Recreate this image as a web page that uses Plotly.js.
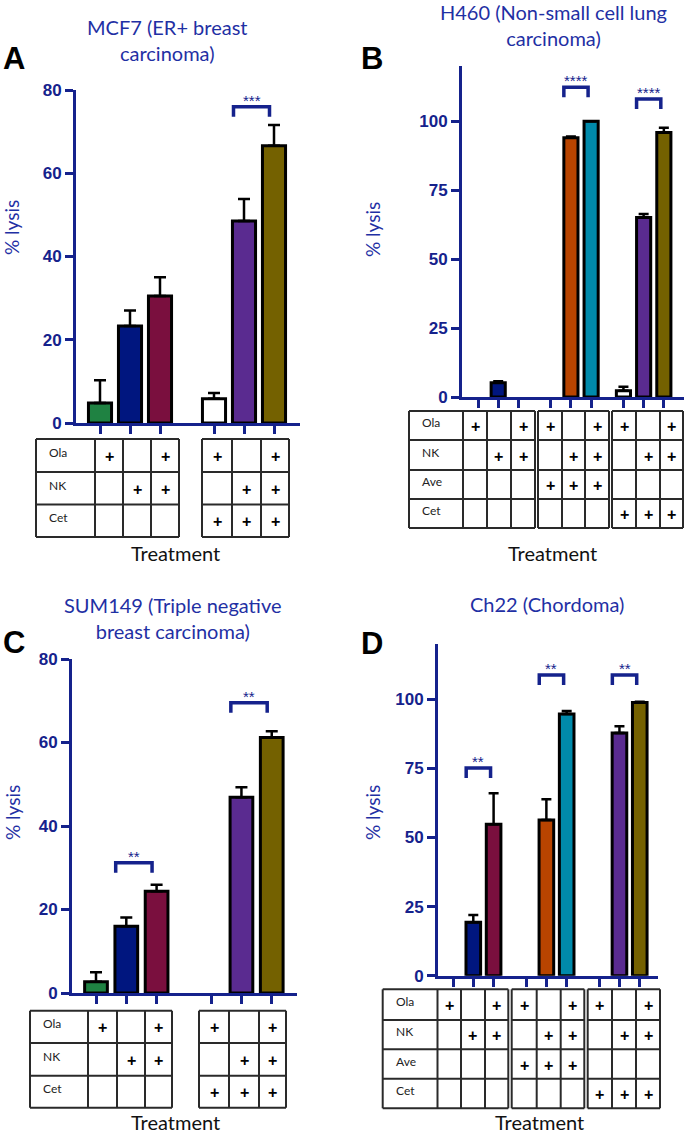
<!DOCTYPE html>
<html><head><meta charset="utf-8">
<script src="https://cdn.plot.ly/plotly-3.0.1.min.js"></script>
<style>html,body{margin:0;padding:0;background:#fff}#chart{width:685px;height:1137px}</style>
</head><body><div id="chart"></div>
<script>
// ================= DATA =================
// Panel A - MCF7
const titleA = 'MCF7 (ER+ breast<br>carcinoma)';
const rowsA = ['Ola', 'NK', 'Cet'];
const treatA = [[1,0,0],[0,1,0],[1,1,0],[1,0,1],[0,1,1],[1,1,1]];
const valuesA = [4.8, 23.3, 30.5, 5.8, 48.5, 66.6];
const errorsA = [5.5, 3.7, 4.5, 1.4, 5.3, 5.0];
const sigPairsA = [[4,5]];
const sigLevelsA = [76];
const sigLabelsA = ['***'];

// Panel B - H460
const titleB = 'H460 (Non-small cell lung<br>carcinoma)';
const rowsB = ['Ola', 'NK', 'Ave', 'Cet'];
const treatB = [[1,0,0,0],[0,1,0,0],[1,1,0,0],[1,0,1,0],[0,1,1,0],[1,1,1,0],[1,0,0,1],[0,1,0,1],[1,1,0,1]];
const valuesB = [null, 5.2, null, null, 94.0, 100.0, 2.3, 65.1, 95.9];
const errorsB = [0, 0.5, 0, 0, 0.4, 0, 1.4, 1.2, 1.7];
const sigPairsB = [[4,5],[7,8]];
const sigLevelsB = [112.3, 108];
const sigLabelsB = ['****', '****'];

// Panel C - SUM149
const titleC = 'SUM149 (Triple negative<br>breast carcinoma)';
const rowsC = ['Ola', 'NK', 'Cet'];
const treatC = [[1,0,0],[0,1,0],[1,1,0],[1,0,1],[0,1,1],[1,1,1]];
const valuesC = [2.7, 16.0, 24.4, null, 46.9, 61.2];
const errorsC = [2.3, 2.1, 1.5, 0, 2.4, 1.5];
const sigPairsC = [[1,2],[4,5]];
const sigLevelsC = [31.2, 69.5];
const sigLabelsC = ['**', '**'];

// Panel D - Ch22
const titleD = 'Ch22 (Chordoma)';
const rowsD = ['Ola', 'NK', 'Ave', 'Cet'];
const treatD = [[1,0,0,0],[0,1,0,0],[1,1,0,0],[1,0,1,0],[0,1,1,0],[1,1,1,0],[1,0,0,1],[0,1,0,1],[1,1,0,1]];
const valuesD = [null, 19.3, 54.8, null, 56.3, 94.7, null, 87.8, 98.8];
const errorsD = [0, 2.7, 11.2, 0, 7.5, 1.1, 0, 2.4, 0.3];
const sigPairsD = [[1,2],[4,5],[7,8]];
const sigLevelsD = [75.1, 108.8, 108.8];
const sigLabelsD = ['**', '**', '**'];

const yLabel = '% lysis';
const xLabel = 'Treatment';

// ================= STYLE / LAYOUT =================
const W = 685, H = 1137;
const NAVY = '#15228c', TITLEBLUE = '#1f30a4';
const C = {green:'#1f8242', navy:'#00167f', maroon:'#7a0f3e', white:'#ffffff', purple:'#5a2b90', olive:'#746100', orange:'#b84400', cyan:'#008aab'};
const colorsA = [C.green, C.navy, C.maroon, C.white, C.purple, C.olive];
const colorsB = [C.green, C.navy, C.maroon, C.orange, C.orange, C.cyan, C.white, C.purple, C.olive];

const panels = [
  {id:'', letter:'A', title:titleA, rows:rowsA, treat:treatA, vals:valuesA, errs:errorsA, colors:colorsA,
   sp:sigPairsA, sl:sigLevelsA, st:sigLabelsA,
   px:{x0:76, x1:300, yTop:90, yBot:423, first:100, unit:30}, step:3.8, yr:[0,80], dtick:20, barW:0.77, cap:6,
   titleXY:[167,40], letterXY:[14,58], ylabXY:[12,228], treatXY:[175,553],
   tRows:[439,472,504.5,537], tCols:[[36,95,123,151,179],[202,232,261,289]]},
  {id:'2', letter:'B', title:titleB, rows:rowsB, treat:treatB, vals:valuesB, errs:errorsB, colors:colorsB,
   sp:sigPairsB, sl:sigLevelsB, st:sigLabelsB,
   px:{x0:462, x1:684, yTop:66, yBot:397, first:478, unit:20.2}, step:3.6, yr:[0,120], dtick:25, barW:0.7, cap:5,
   titleXY:[553,25], letterXY:[372,58], ylabXY:[373,230], treatXY:[552,553],
   tRows:[411,440,470,499,528], tCols:[[409,463,487,511,535],[538,562,585,609],[612,636,660,683]]},
  {id:'3', letter:'C', title:titleC, rows:rowsC, treat:treatC, vals:valuesC, errs:errorsC, colors:colorsA,
   sp:sigPairsC, sl:sigLevelsC, st:sigLabelsC,
   px:{x0:72, x1:297, yTop:659, yBot:993, first:96, unit:30.3}, step:3.8, yr:[0,80], dtick:20, barW:0.75, cap:6,
   titleXY:[173,618], letterXY:[14,642], ylabXY:[12,813], treatXY:[175,1122],
   tRows:[1010.7,1043,1075.7,1107.7], tCols:[[30,88,117,145,172],[199,229,259,286]]},
  {id:'4', letter:'D', title:titleD, rows:rowsD, treat:treatD, vals:valuesD, errs:errorsD, colors:colorsB,
   sp:sigPairsD, sl:sigLevelsD, st:sigLabelsD,
   px:{x0:438, x1:658, yTop:644, yBot:975.7, first:453, unit:20.3}, step:3.6, yr:[0,120], dtick:25, barW:0.72, cap:5,
   titleXY:[547,604], letterXY:[372,643], ylabXY:[372,813], treatXY:[539,1122],
   tRows:[989.3,1020,1049.3,1078.7,1108.3], tCols:[[382.7,437.5,461,485,508.3],[511.7,536.7,560.7,584.3],[587.7,612,636,660]]}
];

const fx = p => p / W;
const fy = p => 1 - p / H;

const traces = [], shapes = [], annotations = [];
const layout = {
  width: W, height: H, margin:{l:0, r:0, t:0, b:0},
  paper_bgcolor:'#fff', plot_bgcolor:'rgba(0,0,0,0)', showlegend:false,
  font:{family:'Lato, "Open Sans", sans-serif'}
};

panels.forEach(p => {
  const pos = p.vals.map((v, k) => Math.floor(k / 3) * p.step + (k % 3));
  const xr = [(p.px.x0 - p.px.first) / p.px.unit, (p.px.x1 - p.px.first) / p.px.unit];
  const pxPerY = (p.px.yBot - p.px.yTop) / (p.yr[1] - p.yr[0]);
  const xa = 'x' + p.id, ya = 'y' + p.id;

  traces.push({
    type:'bar', x:pos, y:p.vals, xaxis:xa, yaxis:ya, width:p.barW,
    marker:{color:p.colors, line:{color:'#000', width:3}},
    error_y:{type:'data', symmetric:false, array:p.errs, arrayminus:p.errs.map(() => 0),
             color:'#000', thickness:2.5, width:p.cap},
    hoverinfo:'skip'
  });

  const axCommon = {showgrid:false, zeroline:false, showline:true, linecolor:NAVY, linewidth:3,
    ticks:'outside', tickcolor:NAVY, tickwidth:3, ticklen:8, fixedrange:true};
  layout['xaxis' + p.id] = Object.assign({}, axCommon, {
    domain:[fx(p.px.x0), fx(p.px.x1)], range:xr, anchor:ya,
    tickmode:'array', tickvals:pos, showticklabels:false});
  layout['yaxis' + p.id] = Object.assign({}, axCommon, {
    domain:[fy(p.px.yBot), fy(p.px.yTop)], range:p.yr, anchor:xa,
    tickmode:'linear', tick0:0, dtick:p.dtick,
    tickfont:{family:'"Liberation Sans", Arial, sans-serif', size:17, color:NAVY, weight:'bold'},
    ticklabelstandoff:0});

  // significance brackets
  p.sp.forEach((pair, s) => {
    const x0 = pos[pair[0]] - 0.35, x1 = pos[pair[1]] - 0.15;
    const yt = p.sl[s], yb = yt - 10 / pxPerY;
    shapes.push({type:'path', xref:xa, yref:ya,
      path:`M ${x0},${yb} L ${x0},${yt} L ${x1},${yt} L ${x1},${yb}`,
      line:{color:NAVY, width:3.5}});
    annotations.push({xref:xa, yref:ya, x:(x0 + x1) / 2, y:yt, yanchor:'bottom', xanchor:'center',
      text:p.st[s], showarrow:false, yshift:-4,
      font:{family:'"Liberation Sans", Arial, sans-serif', size:15, color:NAVY}});
  });

  // title, letter, y label, x label
  annotations.push({xref:'paper', yref:'paper', x:fx(p.titleXY[0]), y:fy(p.titleXY[1]), xanchor:'center', yanchor:'middle',
    text:p.title, showarrow:false, font:{family:'Lato, sans-serif', size:20, color:TITLEBLUE}});
  annotations.push({xref:'paper', yref:'paper', x:fx(p.letterXY[0]), y:fy(p.letterXY[1]), xanchor:'center', yanchor:'middle',
    text:p.letter, showarrow:false, font:{family:'"Liberation Sans", Arial, sans-serif', size:31, color:'#000', weight:'bold'}});
  annotations.push({xref:'paper', yref:'paper', x:fx(p.ylabXY[0]), y:fy(p.ylabXY[1]), xanchor:'center', yanchor:'middle',
    text:yLabel, textangle:-90, showarrow:false, font:{family:'Lato, sans-serif', size:19, color:TITLEBLUE}});
  annotations.push({xref:'paper', yref:'paper', x:fx(p.treatXY[0]), y:fy(p.treatXY[1]), xanchor:'center', yanchor:'middle',
    text:xLabel, showarrow:false, font:{family:'Lato, sans-serif', size:20, color:'#111'}});

  // tables
  const rEdges = p.tRows;
  p.tCols.forEach(cols => {
    const left = cols[0], right = cols[cols.length - 1];
    rEdges.forEach(ry => shapes.push({type:'line', xref:'paper', yref:'paper',
      x0:fx(left), x1:fx(right), y0:fy(ry), y1:fy(ry), line:{color:'#2a2a2a', width:2}}));
    cols.forEach(cx => shapes.push({type:'line', xref:'paper', yref:'paper',
      x0:fx(cx), x1:fx(cx), y0:fy(rEdges[0]), y1:fy(rEdges[rEdges.length - 1]), line:{color:'#2a2a2a', width:2}}));
  });
  p.rows.forEach((lab, r) => {
    const cy = (rEdges[r] + rEdges[r + 1]) / 2;
    annotations.push({xref:'paper', yref:'paper', x:fx(p.tCols[0][0] + 11), y:fy(cy - 3), xanchor:'left', yanchor:'middle',
      text:lab, showarrow:false, font:{family:'Lato, sans-serif', size:12, color:'#222'}});
  });
  p.treat.forEach((colFlags, k) => {
    const g = Math.floor(k / 3), i = k % 3;
    const off = g === 0 ? 1 : 0;
    const cols = p.tCols[g];
    const cx = (cols[off + i] + cols[off + i + 1]) / 2;
    colFlags.forEach((f, r) => {
      if (!f) return;
      const cy = (rEdges[r] + rEdges[r + 1]) / 2;
      annotations.push({xref:'paper', yref:'paper', x:fx(cx), y:fy(cy + 1), xanchor:'center', yanchor:'middle',
        text:'+', showarrow:false, font:{family:'"Liberation Sans", Arial, sans-serif', size:16, color:'#000', weight:'bold'}});
    });
  });
});

layout.shapes = shapes;
layout.annotations = annotations;
Plotly.newPlot('chart', traces, layout, {staticPlot:true, displayModeBar:false});
</script>
</body></html>
